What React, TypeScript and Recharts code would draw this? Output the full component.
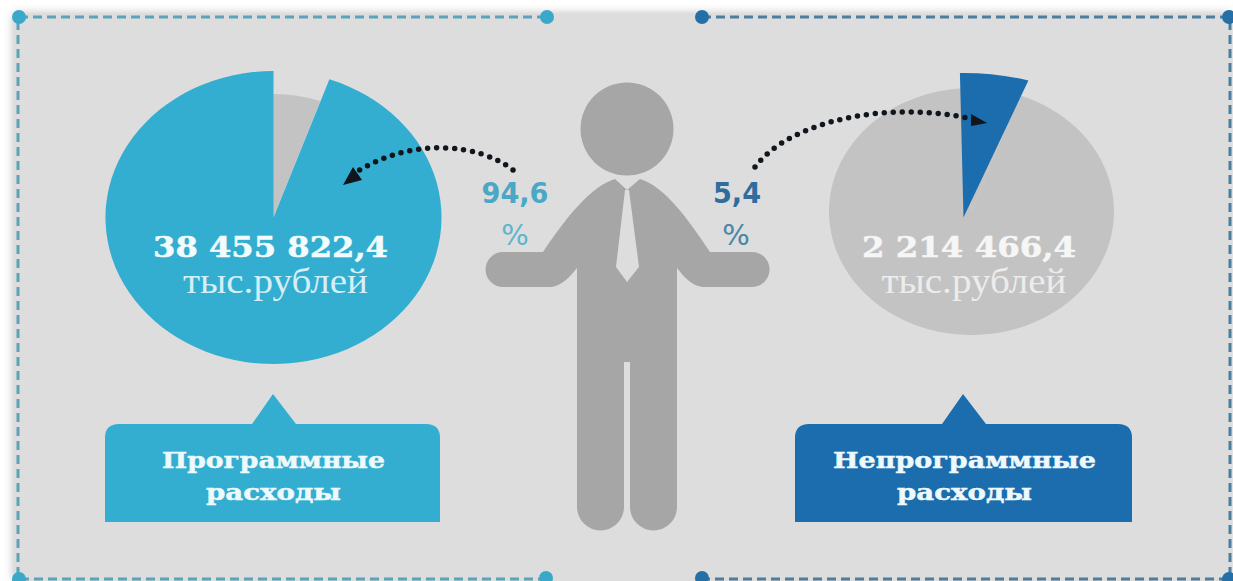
import { PieChart, Pie, Cell } from 'recharts';

const sliceNames = ['Непрограммные расходы', 'Программные расходы'];
const slicePercents = [5.4, 94.6];
const amounts = ['38 455 822,4', '2 214 466,4'];
const percentLabels = ['94,6', '5,4'];
const unitLabel = 'тыс.рублей';
const boxLabels = [['Программные', 'расходы'], ['Непрограммные', 'расходы']];

const sliceRows = sliceNames.map((name, i) => ({ name, value: slicePercents[i] }));

const LIGHT = '#33aed1';
const DARK = '#1b6dae';
const SLICE_GREY = '#c3c3c3';
const PERSON = '#a6a6a6';
const PANEL = '#dddddd';

type LayerProps = {
  x: number;
  y: number;
  radius: number;
  stretch: number;
  fills: string[];
  startAngle?: number;
};

// one pie layer, stretched sideways with css since the slices in the picture are ellipses
const PieLayer = ({ x, y, radius, stretch, fills, startAngle = 90 }: LayerProps) => {
  const half = radius + 2;
  return (
    <div
      style={{
        position: 'absolute',
        left: x - half,
        top: y - half,
        width: half * 2,
        height: half * 2,
        transform: `scaleX(${stretch})`,
        transformOrigin: 'center',
      }}
    >
      <PieChart width={half * 2} height={half * 2} margin={{ top: 0, right: 0, bottom: 0, left: 0 }}>
        <Pie
          data={sliceRows}
          dataKey="value"
          nameKey="name"
          cx={half}
          cy={half}
          innerRadius={0}
          outerRadius={radius}
          startAngle={startAngle}
          endAngle={startAngle - 360}
          stroke="none"
          isAnimationActive={false}
        >
          {sliceRows.map((row, i) => (
            <Cell key={row.name} fill={fills[i]} />
          ))}
        </Pie>
      </PieChart>
    </div>
  );
};

const Person = () => (
  <g fill={PERSON}>
    <circle cx={627} cy={129} r={46.5} />
    <path d="M615 179 L627 190 L640 179 C665 186 690 222 710 252 L753 252 A17.5 17.5 0 0 1 751 287 L703 287 C692 286 684 277 677 268 L677 507 A23.5 23.5 0 0 1 630 507 L630 362 L624 362 L624 507 A23.5 23.5 0 0 1 577 507 L577 268 C570 277 562 285 552 287 L503 287 A17.5 17.5 0 0 1 503 252 L543 252 C563 222 590 186 615 179 Z" />
    <path d="M625 190 L629 190 L639 267 L627 282 L616 267 Z" fill={PANEL} />
  </g>
);

const Dotted = ({ d }: { d: string }) => (
  <path d={d} fill="none" stroke="#10161c" strokeWidth={5.5} strokeLinecap="round" strokeDasharray="0 9" />
);

const Callout = ({ x, w, apex, fill, lines, widths }: { x: number; w: number; apex: number; fill: string; lines: string[]; widths: number[] }) => (
  <g>
    <path
      d={`M${x} 522 L${x} 438 Q${x} 424 ${x + 14} 424 L${apex - 21} 424 L${apex} 394 L${apex + 23} 424 L${x + w - 14} 424 Q${x + w} 424 ${x + w} 438 L${x + w} 522 Z`}
      fill={fill}
    />
    {lines.map((line, i) => (
      <text
        key={line}
        x={x + w / 2 + 1}
        y={468 + i * 32}
        textAnchor="middle"
        fontFamily="'DejaVu Serif'"
        fontWeight={700}
        fontSize={23}
        fill="#eef9fc"
        stroke="#eef9fc"
        strokeWidth={0.5}
        textLength={widths[i]}
        lengthAdjust="spacingAndGlyphs"
      >
        {line}
      </text>
    ))}
  </g>
);

const Border = ({ d, dash, dot, dots }: { d: string; dash: string; dot: string; dots: number[][] }) => (
  <g>
    <path d={d} fill="none" stroke={dash} strokeWidth={3} strokeDasharray="9 5" />
    {dots.map(([cx, cy]) => (
      <circle key={`${cx}-${cy}`} cx={cx} cy={cy} r={7} fill={dot} />
    ))}
  </g>
);

const App = () => (
  <div style={{ position: 'absolute', left: 0, top: 0, width: 1233, height: 581, background: '#fff', overflow: 'hidden' }}>
    <div
      style={{
        position: 'absolute',
        left: 14,
        top: 14,
        width: 1217,
        height: 567,
        background: PANEL,
        boxShadow: '0 0 10px rgba(0,0,0,0.28)',
      }}
    />
    <PieLayer x={273} y={217.5} radius={124} stretch={1.147} fills={[SLICE_GREY, 'none']} />
    <PieLayer x={273} y={217.5} radius={146.5} stretch={1.147} fills={['none', LIGHT]} />
    <PieLayer x={971.5} y={211.5} radius={123.5} stretch={1.154} fills={[SLICE_GREY, SLICE_GREY]} />
    <PieLayer x={963} y={217} radius={144.5} stretch={1.42} fills={[DARK, 'none']} startAngle={91} />

    <svg width={1233} height={581} style={{ position: 'absolute', left: 0, top: 0 }}>
      <Border d="M546 17 L18 17 L18 579 L546 579" dash="#5ba3bb" dot="#3aa9c9" dots={[[19, 17], [547, 17], [19, 579], [546, 578]]} />
      <Border d="M702 17 L1230 17 L1230 579 L702 579" dash="#4d7d9f" dot="#256fa6" dots={[[702, 17], [1229, 17], [702, 578], [1229, 579]]} />

      <Person />

      <Dotted d="M513 170 C480 144 412 136 355 173" />
      <path d="M343 185 L353 167 L362 180 Z" fill="#10161c" />
      <Dotted d="M755 167 C790 120 890 100 972 119" />
      <path d="M987 123 L971 114 L971 126 Z" fill="#10161c" />

      <text x={270.5} y={257} textAnchor="middle" fontFamily="'DejaVu Serif'" fontWeight={700} fontSize={28} fill="#f2fbfd" stroke="#f2fbfd" strokeWidth={0.5} textLength={235} lengthAdjust="spacingAndGlyphs">
        {amounts[0]}
      </text>
      <text x={275.5} y={293} textAnchor="middle" fontFamily="'Liberation Serif'" fontSize={35} fill="#d5eff6" textLength={185} lengthAdjust="spacingAndGlyphs">
        {unitLabel}
      </text>
      <text x={969} y={257} textAnchor="middle" fontFamily="'DejaVu Serif'" fontWeight={700} fontSize={27} fill="#f6f6f6" stroke="#f6f6f6" strokeWidth={0.5} textLength={214} lengthAdjust="spacingAndGlyphs">
        {amounts[1]}
      </text>
      <text x={974} y={293} textAnchor="middle" fontFamily="'Liberation Serif'" fontSize={35} fill="#ececec" textLength={185} lengthAdjust="spacingAndGlyphs">
        {unitLabel}
      </text>

      <text x={515} y={203} textAnchor="middle" fontFamily="'DejaVu Sans'" fontWeight={700} fontSize={29} fill="#4aa8c6" textLength={67} lengthAdjust="spacingAndGlyphs">
        {percentLabels[0]}
      </text>
      <text x={515} y={245} textAnchor="middle" fontFamily="'DejaVu Sans'" fontSize={29} fill="#5fb5cb">%</text>
      <text x={737} y={203} textAnchor="middle" fontFamily="'DejaVu Sans'" fontWeight={700} fontSize={29} fill="#2f6d9f" textLength={48} lengthAdjust="spacingAndGlyphs">
        {percentLabels[1]}
      </text>
      <text x={736} y={245} textAnchor="middle" fontFamily="'DejaVu Sans'" fontSize={29} fill="#4a86ab">%</text>

      <Callout x={105} w={335} apex={273} fill={LIGHT} lines={boxLabels[0]} widths={[223, 135]} />
      <Callout x={795} w={337} apex={963} fill={DARK} lines={boxLabels[1]} widths={[263, 135]} />
    </svg>
  </div>
);

export default App;
